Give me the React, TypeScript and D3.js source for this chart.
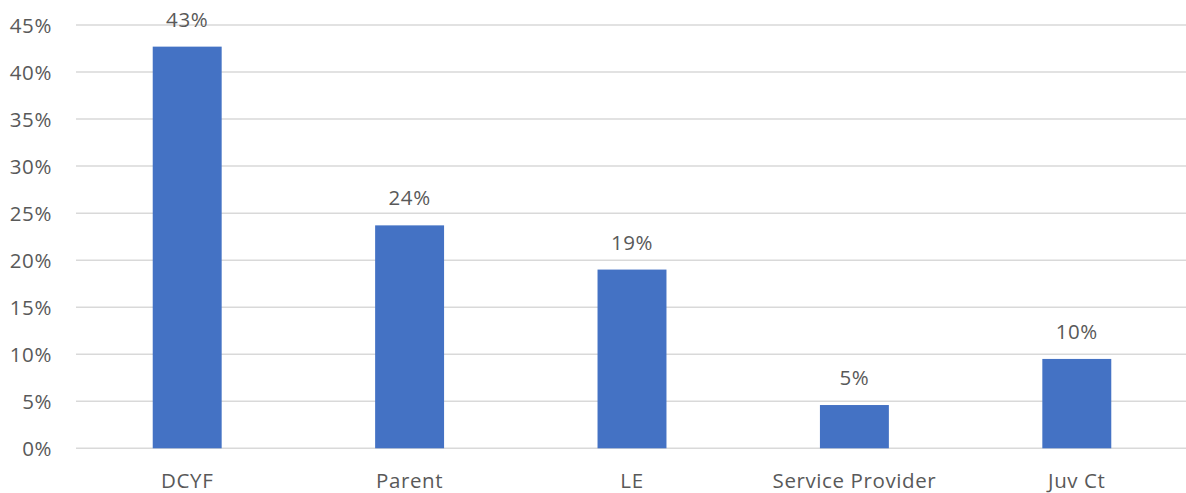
import React from "react";
import * as d3 from "d3";

const categories = ["DCYF", "Parent", "LE", "Service Provider", "Juv Ct"];
const values = [42.7, 23.7, 19.0, 4.6, 9.5];
const valueLabels = ["43%", "24%", "19%", "5%", "10%"];
const yTicks = [0, 5, 10, 15, 20, 25, 30, 35, 40, 45];

export default function App() {
  const W = 1186, H = 493;
  const left = 76, right = 1188, top = 25, bottom = 448.3;
  const x = d3.scaleBand<string>().domain(categories).range([left, right]).paddingInner(0.69).paddingOuter(0.345);
  const y = d3.scaleLinear().domain([0, 45]).range([bottom, top]);
  const font = "'Open Sans', Lato, sans-serif";
  const color = "#595959";
  const fs = 20.5;
  const ls = 0.6;
  return (
    <svg width={W} height={H} style={{ position: "absolute", left: 0, top: 0, background: "#fff" }}>
      {yTicks.map((t) => (
        <g key={t}>
          <line x1={left} x2={right} y1={y(t)} y2={y(t)} stroke="#d9d9d9" strokeWidth={1.5} />
          <text x={52} y={y(t) + 7.5} textAnchor="end" fontFamily={font} fontSize={fs} letterSpacing={ls} fill={color}>
            {t}%
          </text>
        </g>
      ))}
      {categories.map((c, i) => (
        <g key={c}>
          <rect x={x(c)} y={y(values[i])} width={x.bandwidth()} height={bottom - y(values[i])} fill="#4472c4" />
          <text x={x(c)! + x.bandwidth() / 2} y={y(values[i]) - 20} textAnchor="middle" fontFamily={font} fontSize={fs} letterSpacing={ls} fill={color}>
            {valueLabels[i]}
          </text>
          <text x={x(c)! + x.bandwidth() / 2} y={488} textAnchor="middle" fontFamily={font} fontSize={fs} letterSpacing={ls} fill={color}>
            {c}
          </text>
        </g>
      ))}
    </svg>
  );
}
